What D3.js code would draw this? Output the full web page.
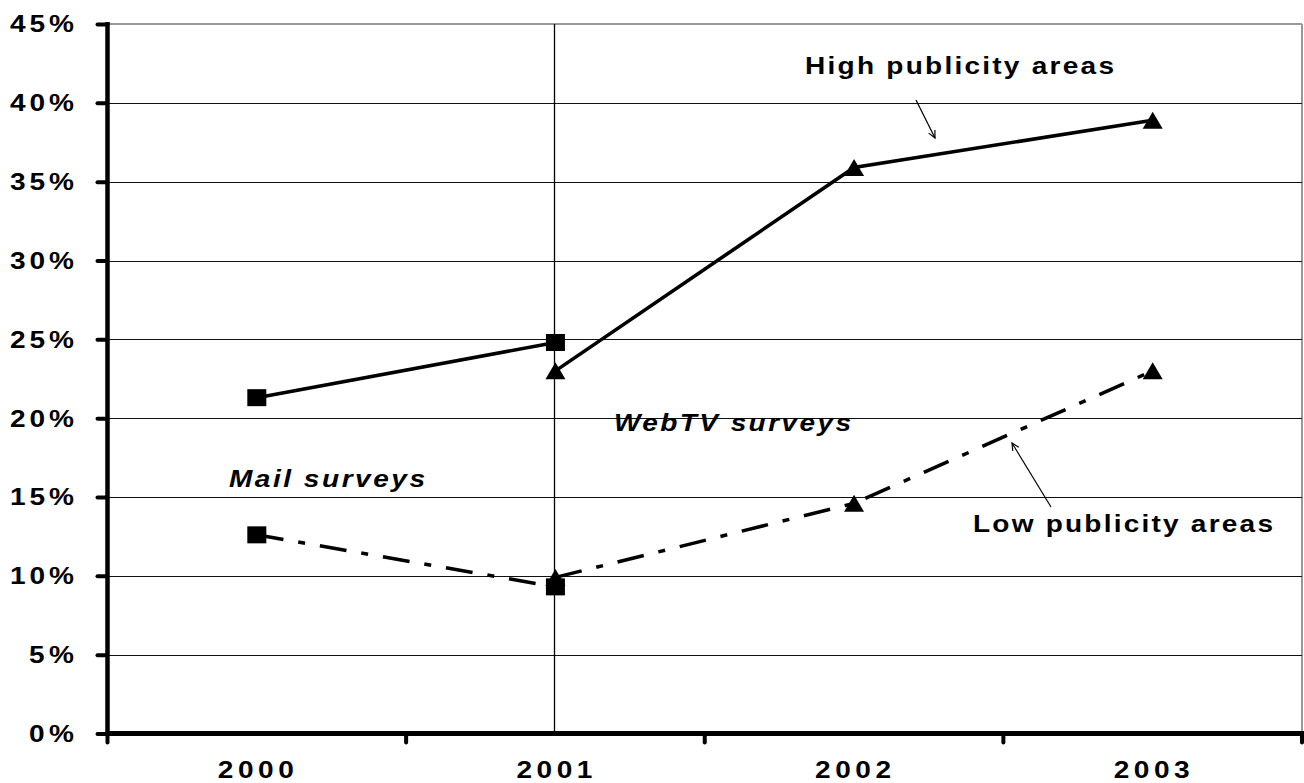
<!DOCTYPE html>
<html>
<head>
<meta charset="utf-8">
<script src="https://cdn.jsdelivr.net/npm/d3@7"></script>
<style>
  html, body { margin: 0; padding: 0; background: #fff; }
  svg { display: block; }
  text { font-family: "Liberation Sans", Arial, sans-serif; font-weight: bold; fill: #000; }
</style>
</head>
<body>
<svg id="chart" width="1304" height="783"></svg>
<script>
// ---- data ----
const years = ["2000", "2001", "2002", "2003"];
const yTickValues = [0, 5, 10, 15, 20, 25, 30, 35, 40, 45];
const mailYears = ["2000", "2001"];
const webYears = ["2001", "2002", "2003"];
const highMail = [21.3, 24.8];
const highWeb = [23.0, 35.9, 38.9];
const lowMail = [12.6, 9.3];
const lowWeb = [9.9, 14.6, 23.0];
const labelHigh = "High publicity areas";
const labelLow = "Low publicity areas";
const labelMail = "Mail surveys";
const labelWeb = "WebTV surveys";

// ---- layout ----
const plot = { left: 107.5, right: 1302, top: 24, bottom: 733.5 };
const svg = d3.select("#chart");

const x = d3.scaleBand().domain(years).range([plot.left, plot.right]).paddingInner(0).paddingOuter(0);
const xc = d => x(d) + x.bandwidth() / 2;
const y = d3.scaleLinear().domain([0, 45]).range([plot.bottom, plot.top]);

const FS = 23;
const SX = 1.22;

// stretched, spaced text helper
function sText(g, str, tx, ty, anchor, width, italic) {
  return g.append("text")
    .attr("transform", `translate(${tx},${ty}) scale(${SX},1)`)
    .attr("x", 0).attr("y", 0)
    .attr("text-anchor", anchor)
    .attr("font-size", FS)
    .attr("font-style", italic ? "italic" : "normal")
    .attr("textLength", width / SX)
    .attr("lengthAdjust", "spacing")
    .text(str);
}

// plot border (top/right) in gray
svg.append("line").attr("x1", plot.left).attr("x2", plot.right).attr("y1", plot.top).attr("y2", plot.top)
  .attr("stroke", "#999").attr("stroke-width", 2);
svg.append("line").attr("x1", plot.right).attr("x2", plot.right).attr("y1", plot.top).attr("y2", plot.bottom)
  .attr("stroke", "#999").attr("stroke-width", 2);

// gridlines
svg.append("g").selectAll("line").data(yTickValues.filter(v => v > 0 && v < 45)).join("line")
  .attr("x1", plot.left).attr("x2", plot.right)
  .attr("y1", d => Math.round(y(d)) + 0.5).attr("y2", d => Math.round(y(d)) + 0.5)
  .attr("stroke", "#111").attr("stroke-width", 1);

// vertical separator at 2001
svg.append("line").attr("x1", Math.round(xc("2001")) - 0.5).attr("x2", Math.round(xc("2001")) - 0.5)
  .attr("y1", plot.top).attr("y2", plot.bottom)
  .attr("stroke", "#000").attr("stroke-width", 1.3);

// y axis
const yAxis = d3.axisLeft(y).tickValues(yTickValues).tickSize(10).tickFormat("");
const gy = svg.append("g").attr("transform", `translate(${plot.left},0)`).call(yAxis);
gy.select(".domain").attr("stroke", "#000").attr("stroke-width", 4.5)
  .attr("d", `M0,${plot.top - 2}V${plot.bottom + 2}`);
gy.selectAll(".tick line").attr("stroke", "#000").attr("stroke-width", 4).attr("stroke-linecap", "round");
const gyl = svg.append("g");
yTickValues.forEach(v => {
  sText(gyl, v + "%", 74, y(v) + 8.4, "end", v >= 10 ? 64 : 45, false);
});

// x axis
const xEdges = d3.scaleLinear().domain([0, years.length]).range([plot.left, plot.right]);
const gx = svg.append("g");
gx.append("line").attr("x1", plot.left - 2).attr("x2", plot.right + 2)
  .attr("y1", plot.bottom).attr("y2", plot.bottom)
  .attr("stroke", "#000").attr("stroke-width", 5);
gx.selectAll("line.tk").data(d3.range(years.length + 1)).join("line").attr("class", "tk")
  .attr("x1", d => xEdges(d)).attr("x2", d => xEdges(d))
  .attr("y1", plot.bottom).attr("y2", plot.bottom + 9)
  .attr("stroke", "#000").attr("stroke-width", 4).attr("stroke-linecap", "round");
years.forEach(yr => sText(gx, yr, xc(yr) - 1, 778, "middle", 76, false));

// lines
const line = d3.line().x(d => xc(d.year)).y(d => y(d.v));
const toPts = (ys, vs) => ys.map((yr, i) => ({ year: yr, v: vs[i] }));
const series = [
  { pts: toPts(mailYears, highMail), dash: null, marker: "square" },
  { pts: toPts(webYears, highWeb), dash: null, marker: "triangle" },
  { pts: toPts(mailYears, lowMail), dash: "27,15,7,15", marker: "square" },
  { pts: toPts(webYears, lowWeb), dash: "27,15,7,15", marker: "triangle" }
];
svg.append("g").selectAll("path").data(series).join("path")
  .attr("d", d => line(d.pts))
  .attr("fill", "none").attr("stroke", "#000")
  .attr("stroke-width", d => d.dash ? 3.5 : 3.6)
  .attr("stroke-dasharray", d => d.dash);

// markers: triangles first, squares on top
const mg = svg.append("g");
series.filter(s => s.marker === "triangle").forEach(s => {
  mg.selectAll(null).data(s.pts).join("path")
    .attr("d", d => {
      const cx = xc(d.year), cy = y(d.v);
      return `M${cx},${cy - 8.5}L${cx + 10},${cy + 8.5}L${cx - 10},${cy + 8.5}Z`;
    })
    .attr("fill", "#000");
});
series.filter(s => s.marker === "square").forEach(s => {
  mg.selectAll(null).data(s.pts).join("rect")
    .attr("x", d => xc(d.year) - 9.5).attr("y", d => y(d.v) - 8.5)
    .attr("width", 19).attr("height", 17)
    .attr("fill", "#000");
});

// annotations
const ann = svg.append("g");
sText(ann, labelHigh, 805, 74, "start", 309, false);
sText(ann, labelLow, 973, 532, "start", 300, false);
sText(ann, labelMail, 229, 487, "start", 196, true);
sText(ann, labelWeb, 614, 431, "start", 237, true);

// arrows
function arrow(x1, y1, x2, y2) {
  const ang = Math.atan2(y2 - y1, x2 - x1);
  const L = 8, a = 0.45;
  const p1 = [x2 - L * Math.cos(ang - a), y2 - L * Math.sin(ang - a)];
  const p2 = [x2 - L * Math.cos(ang + a), y2 - L * Math.sin(ang + a)];
  ann.append("line").attr("x1", x1).attr("y1", y1).attr("x2", x2).attr("y2", y2)
    .attr("stroke", "#000").attr("stroke-width", 1.2);
  ann.append("path").attr("d", `M${p1[0]},${p1[1]}L${x2},${y2}L${p2[0]},${p2[1]}`)
    .attr("fill", "none").attr("stroke", "#000").attr("stroke-width", 1.2);
}
arrow(916, 100, 935, 138);
arrow(1051, 507, 1012, 443);
</script>
</body>
</html>
